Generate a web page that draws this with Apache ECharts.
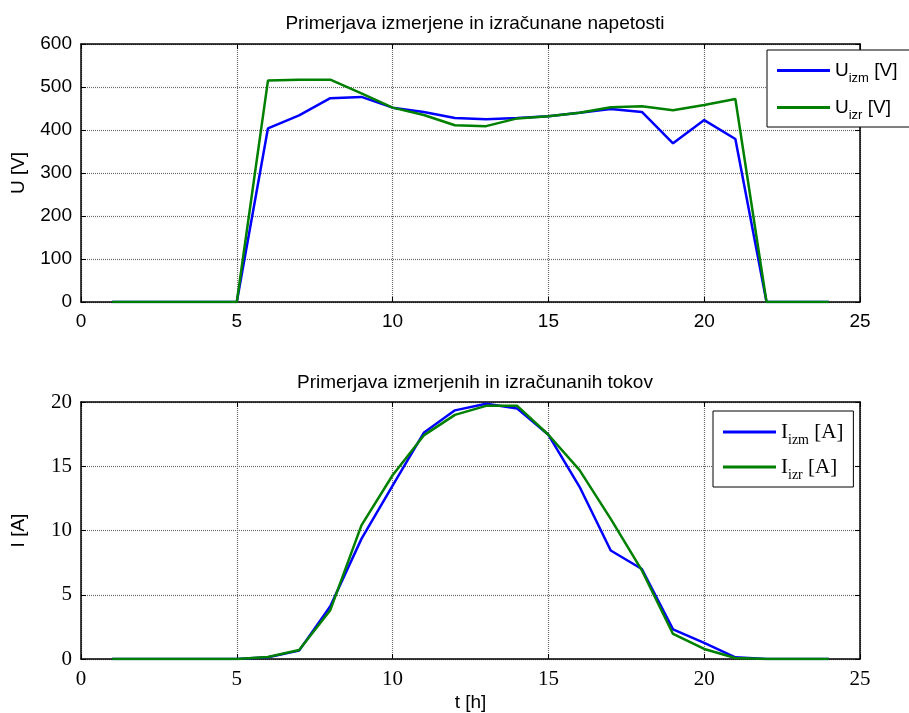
<!DOCTYPE html>
<html><head><meta charset="utf-8">
<script src="https://cdn.jsdelivr.net/npm/echarts@6/dist/echarts.min.js"></script>
<style>html,body{margin:0;padding:0;background:#fff}#c{width:909px;height:713px}</style>
</head><body><div id="c"></div>
<script>
const hours = [1,2,3,4,5,6,7,8,9,10,11,12,13,14,15,16,17,18,19,20,21,22,23,24];
const U_izm = [0,0,0,0,0,404,434,474,477,452,442,428,425,428,432,440,449,442,369,423,379,0,0,0];
const U_izr = [0,0,0,0,0,515,517,517,485,452,435,411,409,427,432,440,453,455,446,458,472,0,0,0];
const I_izm = [0,0,0,0,0,0.13,0.65,4.1,9.35,13.5,17.6,19.35,19.87,19.5,17.45,13.4,8.44,7.0,2.3,1.25,0.13,0,0,0];
const I_izr = [0,0,0,0,0,0.15,0.7,3.8,10.4,14.3,17.4,19.0,19.7,19.7,17.45,14.7,10.9,6.9,1.95,0.78,0.08,0,0,0];
const xTicks = [0,5,10,15,20,25];
const uTicks = [0,100,200,300,400,500,600];
const iTicks = [0,5,10,15,20];
const topTitle = 'Primerjava izmerjene in izračunane napetosti';
const botTitle = 'Primerjava izmerjenih in izračunanih tokov';

const pair = (xs, ys) => xs.map((x, i) => [x, ys[i]]);
const SANS = 'Liberation Sans, Arial, sans-serif';
const SERIF = 'Liberation Serif, Times New Roman, serif';
const grid0 = {left: 81, top: 44, width: 779, height: 258};
const grid1 = {left: 81, top: 402, width: 779, height: 257};
const gridLine = {show: true, lineStyle: {color: '#6a6a6a', type: [1, 1], width: 1.2}};

function xAx(gi, font, main, name) {
  return {
    type: 'value', gridIndex: gi, min: xTicks[0], max: xTicks[xTicks.length-1], interval: 5,
    position: main ? 'bottom' : 'top',
    axisLine: {show: true, onZero: false, lineStyle: {color: '#000', width: 1.5}},
    axisTick: {show: true, inside: true, length: 5, lineStyle: {color: '#000'}},
    axisLabel: {show: main, color: '#000', fontFamily: font, fontSize: font === SERIF ? 21 : 19, margin: 10},
    splitLine: main ? gridLine : {show: false},
    name: main && name ? name : '', nameLocation: 'middle', nameGap: 34,
    nameTextStyle: {color: '#000', fontFamily: SANS, fontSize: 19}
  };
}
function yAx(gi, font, main, ticks, name, interval) {
  return {
    type: 'value', gridIndex: gi, min: ticks[0], max: ticks[ticks.length-1], interval: interval,
    position: main ? 'left' : 'right',
    axisLine: {show: true, onZero: false, lineStyle: {color: '#000', width: 1.5}},
    axisTick: {show: true, inside: true, length: 5, lineStyle: {color: '#000'}},
    axisLabel: {show: main, color: '#000', fontFamily: font, fontSize: font === SERIF ? 21 : 19, margin: 9},
    splitLine: main ? gridLine : {show: false},
    name: main ? name : '', nameLocation: 'middle', nameGap: 53,
    nameTextStyle: {color: '#000', fontFamily: SANS, fontSize: 19}
  };
}

const legendNames = {
  Uizm: '{m|U}{s|izm}{m| [V]}', Uizr: '{m|U}{s|izr}{m| [V]}',
  Iizm: '{m|I}{s|izm}{m| [A]}', Iizr: '{m|I}{s|izr}{m| [A]}'
};

const chart = echarts.init(document.getElementById('c'));
chart.setOption({
  animation: false,
  backgroundColor: '#fff',
  title: [
    {text: topTitle, left: 470, top: 9, textAlign: 'center',
     textStyle: {fontFamily: SANS, fontSize: 19, fontWeight: 'normal', color: '#000'}},
    {text: botTitle, left: 470, top: 368, textAlign: 'center',
     textStyle: {fontFamily: SANS, fontSize: 19, fontWeight: 'normal', color: '#000'}}
  ],
  grid: [grid0, grid1],
  xAxis: [xAx(0, SANS, true), xAx(0, SANS, false), xAx(1, SERIF, true, 't [h]'), xAx(1, SERIF, false)],
  yAxis: [yAx(0, SANS, true, uTicks, 'U [V]', 100), yAx(0, SANS, false, uTicks, '', 100),
          yAx(1, SERIF, true, iTicks, 'I [A]', 5), yAx(1, SERIF, false, iTicks, '', 5)],
  legend: [
    {data: ['Uizm', 'Uizr'], orient: 'vertical', left: 767, top: 50,
     padding: [6, 60, 5, 10], itemGap: 8, itemWidth: 53, itemHeight: 3, icon: 'rect',
     backgroundColor: '#fff', borderColor: '#000', borderWidth: 1, borderRadius: 0,
     formatter: n => legendNames[n],
     textStyle: {color: '#000', rich: {
       m: {fontFamily: SANS, fontSize: 19, color: '#000', lineHeight: 26},
       s: {fontFamily: SANS, fontSize: 13, color: '#000', padding: [16, 0, 0, 0], lineHeight: 26}}}},
    {data: ['Iizm', 'Iizr'], orient: 'vertical', left: 713, top: 411,
     padding: [6, 10, 5, 10], itemGap: 5, itemWidth: 53, itemHeight: 3, icon: 'rect',
     backgroundColor: '#fff', borderColor: '#000', borderWidth: 1, borderRadius: 0,
     formatter: n => legendNames[n],
     textStyle: {color: '#000', rich: {
       m: {fontFamily: SERIF, fontSize: 21, color: '#000', lineHeight: 27},
       s: {fontFamily: SERIF, fontSize: 14, color: '#000', padding: [16, 0, 0, 0], lineHeight: 27}}}}
  ],
  series: [
    {name: 'Uizm', type: 'line', xAxisIndex: 0, yAxisIndex: 0, data: pair(hours, U_izm),
     showSymbol: false, lineStyle: {color: '#0000ff', width: 2.5}, itemStyle: {color: '#0000ff'}},
    {name: 'Uizr', type: 'line', xAxisIndex: 0, yAxisIndex: 0, data: pair(hours, U_izr),
     showSymbol: false, lineStyle: {color: '#008000', width: 2.5}, itemStyle: {color: '#008000'}},
    {name: 'Iizm', type: 'line', xAxisIndex: 2, yAxisIndex: 2, data: pair(hours, I_izm),
     showSymbol: false, lineStyle: {color: '#0000ff', width: 2.5}, itemStyle: {color: '#0000ff'}},
    {name: 'Iizr', type: 'line', xAxisIndex: 2, yAxisIndex: 2, data: pair(hours, I_izr),
     showSymbol: false, lineStyle: {color: '#008000', width: 2.5}, itemStyle: {color: '#008000'}}
  ]
});
</script></body></html>
